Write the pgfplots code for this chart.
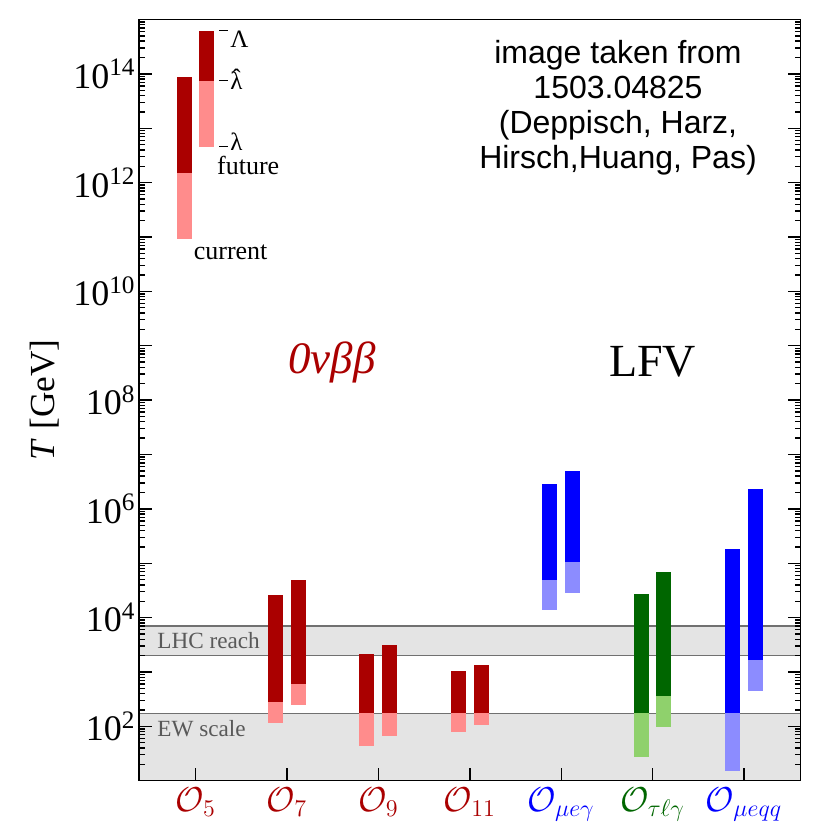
\documentclass[border=0pt]{standalone}
\usepackage{fontspec}
\setmainfont{Liberation Serif}
\newfontfamily\helv{Liberation Sans}
\usepackage{pgfplots}
\pgfplotsset{compat=1.18}
\definecolor{dred}{HTML}{AA0000}
\definecolor{lred}{HTML}{FF8C8C}
\definecolor{dblue}{HTML}{0000FF}
\definecolor{lblue}{HTML}{8C8CFF}
\definecolor{dgreen}{HTML}{006600}
\definecolor{lgreen}{HTML}{8FD16C}
\definecolor{band}{HTML}{E4E4E4}
\definecolor{bandline}{HTML}{707070}
% minor log ticks
\def\myminor{}
\foreach \e in {1,...,14}{\foreach \m in {2,...,9}{\xdef\myminor{\myminor\m e\e,}}}
% one bar segment: x1, x2, ylow, yhigh, colour
\newcommand\seg[5]{\addplot[fill=#5,draw=none] coordinates {(#1,#3) (#2,#3) (#2,#4) (#1,#4)} --cycle;}
\begin{document}
\begin{tikzpicture}
\begin{axis}[
  scale only axis, width=330.85pt, height=380.6pt,
  xmin=0.38, xmax=7.62, ymode=log, ymin=10, ymax=1e15,
  axis on top,
  axis line style={line width=0.75pt},
  tick style={line width=0.7pt, black},
  major tick length=6.5pt, minor tick length=3pt,
  xtick={1,2,3,4,5,6,7}, xtick pos=left,
  xticklabels={
    \textcolor{dred}{$\mathcal{O}_{5}$},
    \textcolor{dred}{$\mathcal{O}_{7}$},
    \textcolor{dred}{$\mathcal{O}_{9}$},
    \textcolor{dred}{$\mathcal{O}_{11}$},
    \textcolor{dblue}{$\mathcal{O}_{\mu e\gamma}$},
    \textcolor{dgreen}{$\mathcal{O}_{\tau\ell\gamma}$},
    \textcolor{dblue}{$\mathcal{O}_{\mu eqq}$}},
  xticklabel style={font=\fontsize{17}{17}\selectfont},
  ytick={1e1,1e2,1e3,1e4,1e5,1e6,1e7,1e8,1e9,1e10,1e11,1e12,1e13,1e14,1e15},
  yticklabels={,10\textsuperscript{2},,10\textsuperscript{4},,10\textsuperscript{6},,10\textsuperscript{8},,10\textsuperscript{10},,10\textsuperscript{12},,10\textsuperscript{14},},
  minor ytick/.expanded={\myminor 1e15},
  yticklabel style={font=\fontsize{18}{18}\selectfont, inner sep=1.5pt},
]
% bands
\addplot[fill=band, draw=none] coordinates {(0.38,10) (7.62,10) (7.62,173) (0.38,173)} --cycle;
\addplot[fill=band, draw=none] coordinates {(0.38,2000) (7.62,2000) (7.62,7000) (0.38,7000)} --cycle;
\addplot[bandline, line width=0.6pt] coordinates {(0.38,173) (7.62,173)};
\addplot[bandline, line width=0.6pt] coordinates {(0.38,2000) (7.62,2000)};
\addplot[bandline, line width=0.6pt] coordinates {(0.38,7000) (7.62,7000)};
% O5
\seg{0.792}{0.956}{9.25e10}{1.53e12}{lred}
\seg{0.792}{0.956}{1.53e12}{8.9e13}{dred}
\seg{1.041}{1.205}{4.57e12}{7.41e13}{lred}
\seg{1.041}{1.205}{7.41e13}{6.25e14}{dred}
% O7
\seg{1.792}{1.956}{115}{281}{lred}
\seg{1.792}{1.956}{281}{2.60e4}{dred}
\seg{2.041}{2.205}{247}{601}{lred}
\seg{2.041}{2.205}{601}{4.91e4}{dred}
% O9
\seg{2.792}{2.956}{42.9}{173}{lred}
\seg{2.792}{2.956}{173}{2143}{dred}
\seg{3.041}{3.205}{65.5}{173}{lred}
\seg{3.041}{3.205}{173}{3133}{dred}
% O11
\seg{3.792}{3.956}{77.6}{173}{lred}
\seg{3.792}{3.956}{173}{1026}{dred}
\seg{4.041}{4.205}{105}{173}{lred}
\seg{4.041}{4.205}{173}{1361}{dred}
% O mu e gamma
\seg{4.792}{4.956}{1.36e4}{4.98e4}{lblue}
\seg{4.792}{4.956}{4.98e4}{2.81e6}{dblue}
\seg{5.041}{5.205}{2.87e4}{1.05e5}{lblue}
\seg{5.041}{5.205}{1.05e5}{4.88e6}{dblue}
% O tau l gamma
\seg{5.792}{5.956}{27.7}{173}{lgreen}
\seg{5.792}{5.956}{173}{2.67e4}{dgreen}
\seg{6.041}{6.205}{95.9}{361}{lgreen}
\seg{6.041}{6.205}{361}{6.79e4}{dgreen}
% O mu e q q
\seg{6.792}{6.956}{14.9}{173}{lblue}
\seg{6.792}{6.956}{173}{1.82e5}{dblue}
\seg{7.041}{7.205}{453}{1660}{lblue}
\seg{7.041}{7.205}{1660}{2.31e6}{dblue}
\end{axis}
% texts (pt coordinates, axis box lower-left at origin)
\node[rotate=90, font=\fontsize{17.6}{18}\selectfont] at (-47pt,190.4pt) {\textit{T} [GeV]};
\node[anchor=west, text=black!65, font=\fontsize{11.6}{12}\selectfont, inner sep=0pt] at (9pt,70pt) {LHC reach};
\node[anchor=west, text=black!65, font=\fontsize{11.6}{12}\selectfont, inner sep=0pt] at (9pt,25.9pt) {EW scale};
\node[text=dred, font=\fontsize{22.5}{24}\selectfont\itshape] at (96.4pt,208.9pt) {0νββ};
\node[font=\fontsize{23}{24}\selectfont] at (256.8pt,209.5pt) {LFV};
\node[align=center, font=\helv\fontsize{16}{17.5}\selectfont] at (239.5pt,336.4pt) {image taken from\\1503.04825\\(Deppisch, Harz,\\Hirsch,Huang, Pas)};
\node[anchor=base west, inner sep=0pt, font=\fontsize{13}{13}\selectfont] at (27.2pt,260.4pt) {current};
\node[anchor=base west, inner sep=0pt, font=\fontsize{13}{13}\selectfont] at (38.9pt,302.9pt) {future};
\draw[line width=0.6pt] (40pt,375pt) -- (44.5pt,375pt);
\draw[line width=0.6pt] (40pt,349.9pt) -- (44.5pt,349.9pt);
\draw[line width=0.6pt] (40pt,316.9pt) -- (44.5pt,316.9pt);
\node[anchor=base west, inner sep=0pt, font=\fontsize{12.5}{13}\selectfont] at (45.5pt,366.7pt) {Λ};
\node[anchor=base west, inner sep=0pt, font=\fontsize{12.5}{13}\selectfont] at (45.5pt,345.7pt) {\ooalign{λ\cr\hfil\raisebox{0.12em}{ˆ}\hfil\cr}};
\node[anchor=base west, inner sep=0pt, font=\fontsize{12.5}{13}\selectfont] at (45.5pt,315pt) {λ};
\path (-69.5pt,-24.65pt) rectangle (348pt,390.35pt);
\end{tikzpicture}
\end{document}
